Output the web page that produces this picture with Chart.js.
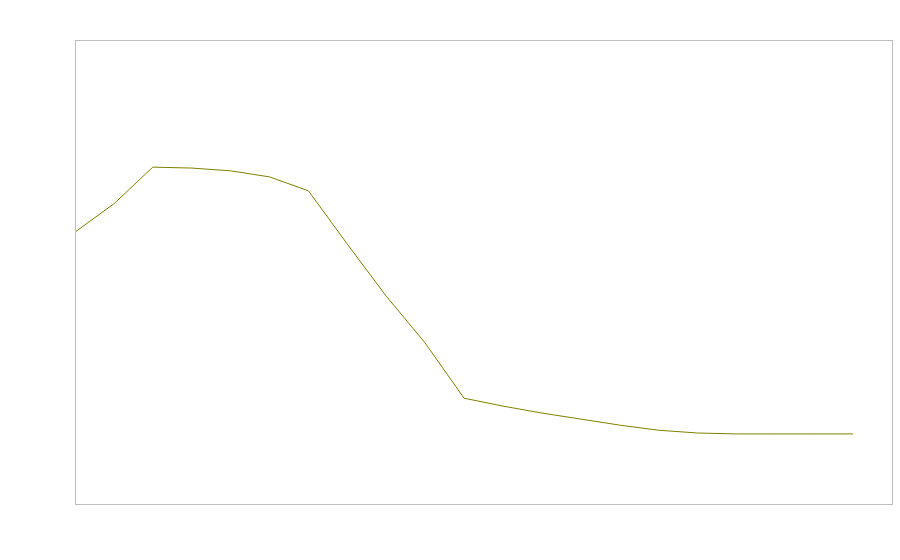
<!DOCTYPE html>
<html>
<head>
<meta charset="utf-8">
<script src="https://cdn.jsdelivr.net/npm/chart.js@4"></script>
<style>
  html, body { margin: 0; padding: 0; background: #fff; }
  #wrap { width: 900px; height: 560px; }
</style>
</head>
<body>
<div id="wrap"><canvas id="chart" width="900" height="560"></canvas></div>
<script>
var labels = ['1', '2', '3', '4', '5', '6', '7', '8', '9', '10', '11',
              '12', '13', '14', '15', '16', '17', '18', '19', '20', '21', '22'];
var values = [58.6, 64.7, 72.6, 72.4, 71.8, 70.5, 67.5, 56.0, 44.8, 34.7, 22.8,
              21.1, 19.6, 18.3, 17.0, 15.9, 15.3, 15.1, 15.1, 15.1, 15.1, null];

// frame round the plot area
var frame = {
    id: 'frame',
    afterDraw: function (chart) {
        var a = chart.chartArea;
        var c = chart.ctx;
        c.save();
        c.strokeStyle = '#bdbdbd';
        c.lineWidth = 1;
        c.strokeRect(Math.round(a.left) + 0.5, Math.round(a.top) + 0.5,
                     Math.round(a.right - a.left), Math.round(a.bottom - a.top));
        c.restore();
    }
};

var ctx = document.getElementById('chart');
new Chart(ctx, {
    type: 'line',
    data: {
        labels: labels,
        datasets: [{
            data: values,
            borderColor: '#808000',
            borderWidth: 1,
            pointRadius: 0,
            tension: 0,
            fill: false
        }]
    },
    options: {
        responsive: false,
        animation: false,
        layout: {
            padding: { left: 75, right: 8, top: 40, bottom: 56 }
        },
        plugins: {
            legend: { display: false },
            tooltip: { enabled: false }
        },
        scales: {
            x: {
                display: false,
                offset: false
            },
            y: {
                display: false,
                min: 0,
                max: 100
            }
        }
    },
    plugins: [frame]
});
</script>
</body>
</html>
